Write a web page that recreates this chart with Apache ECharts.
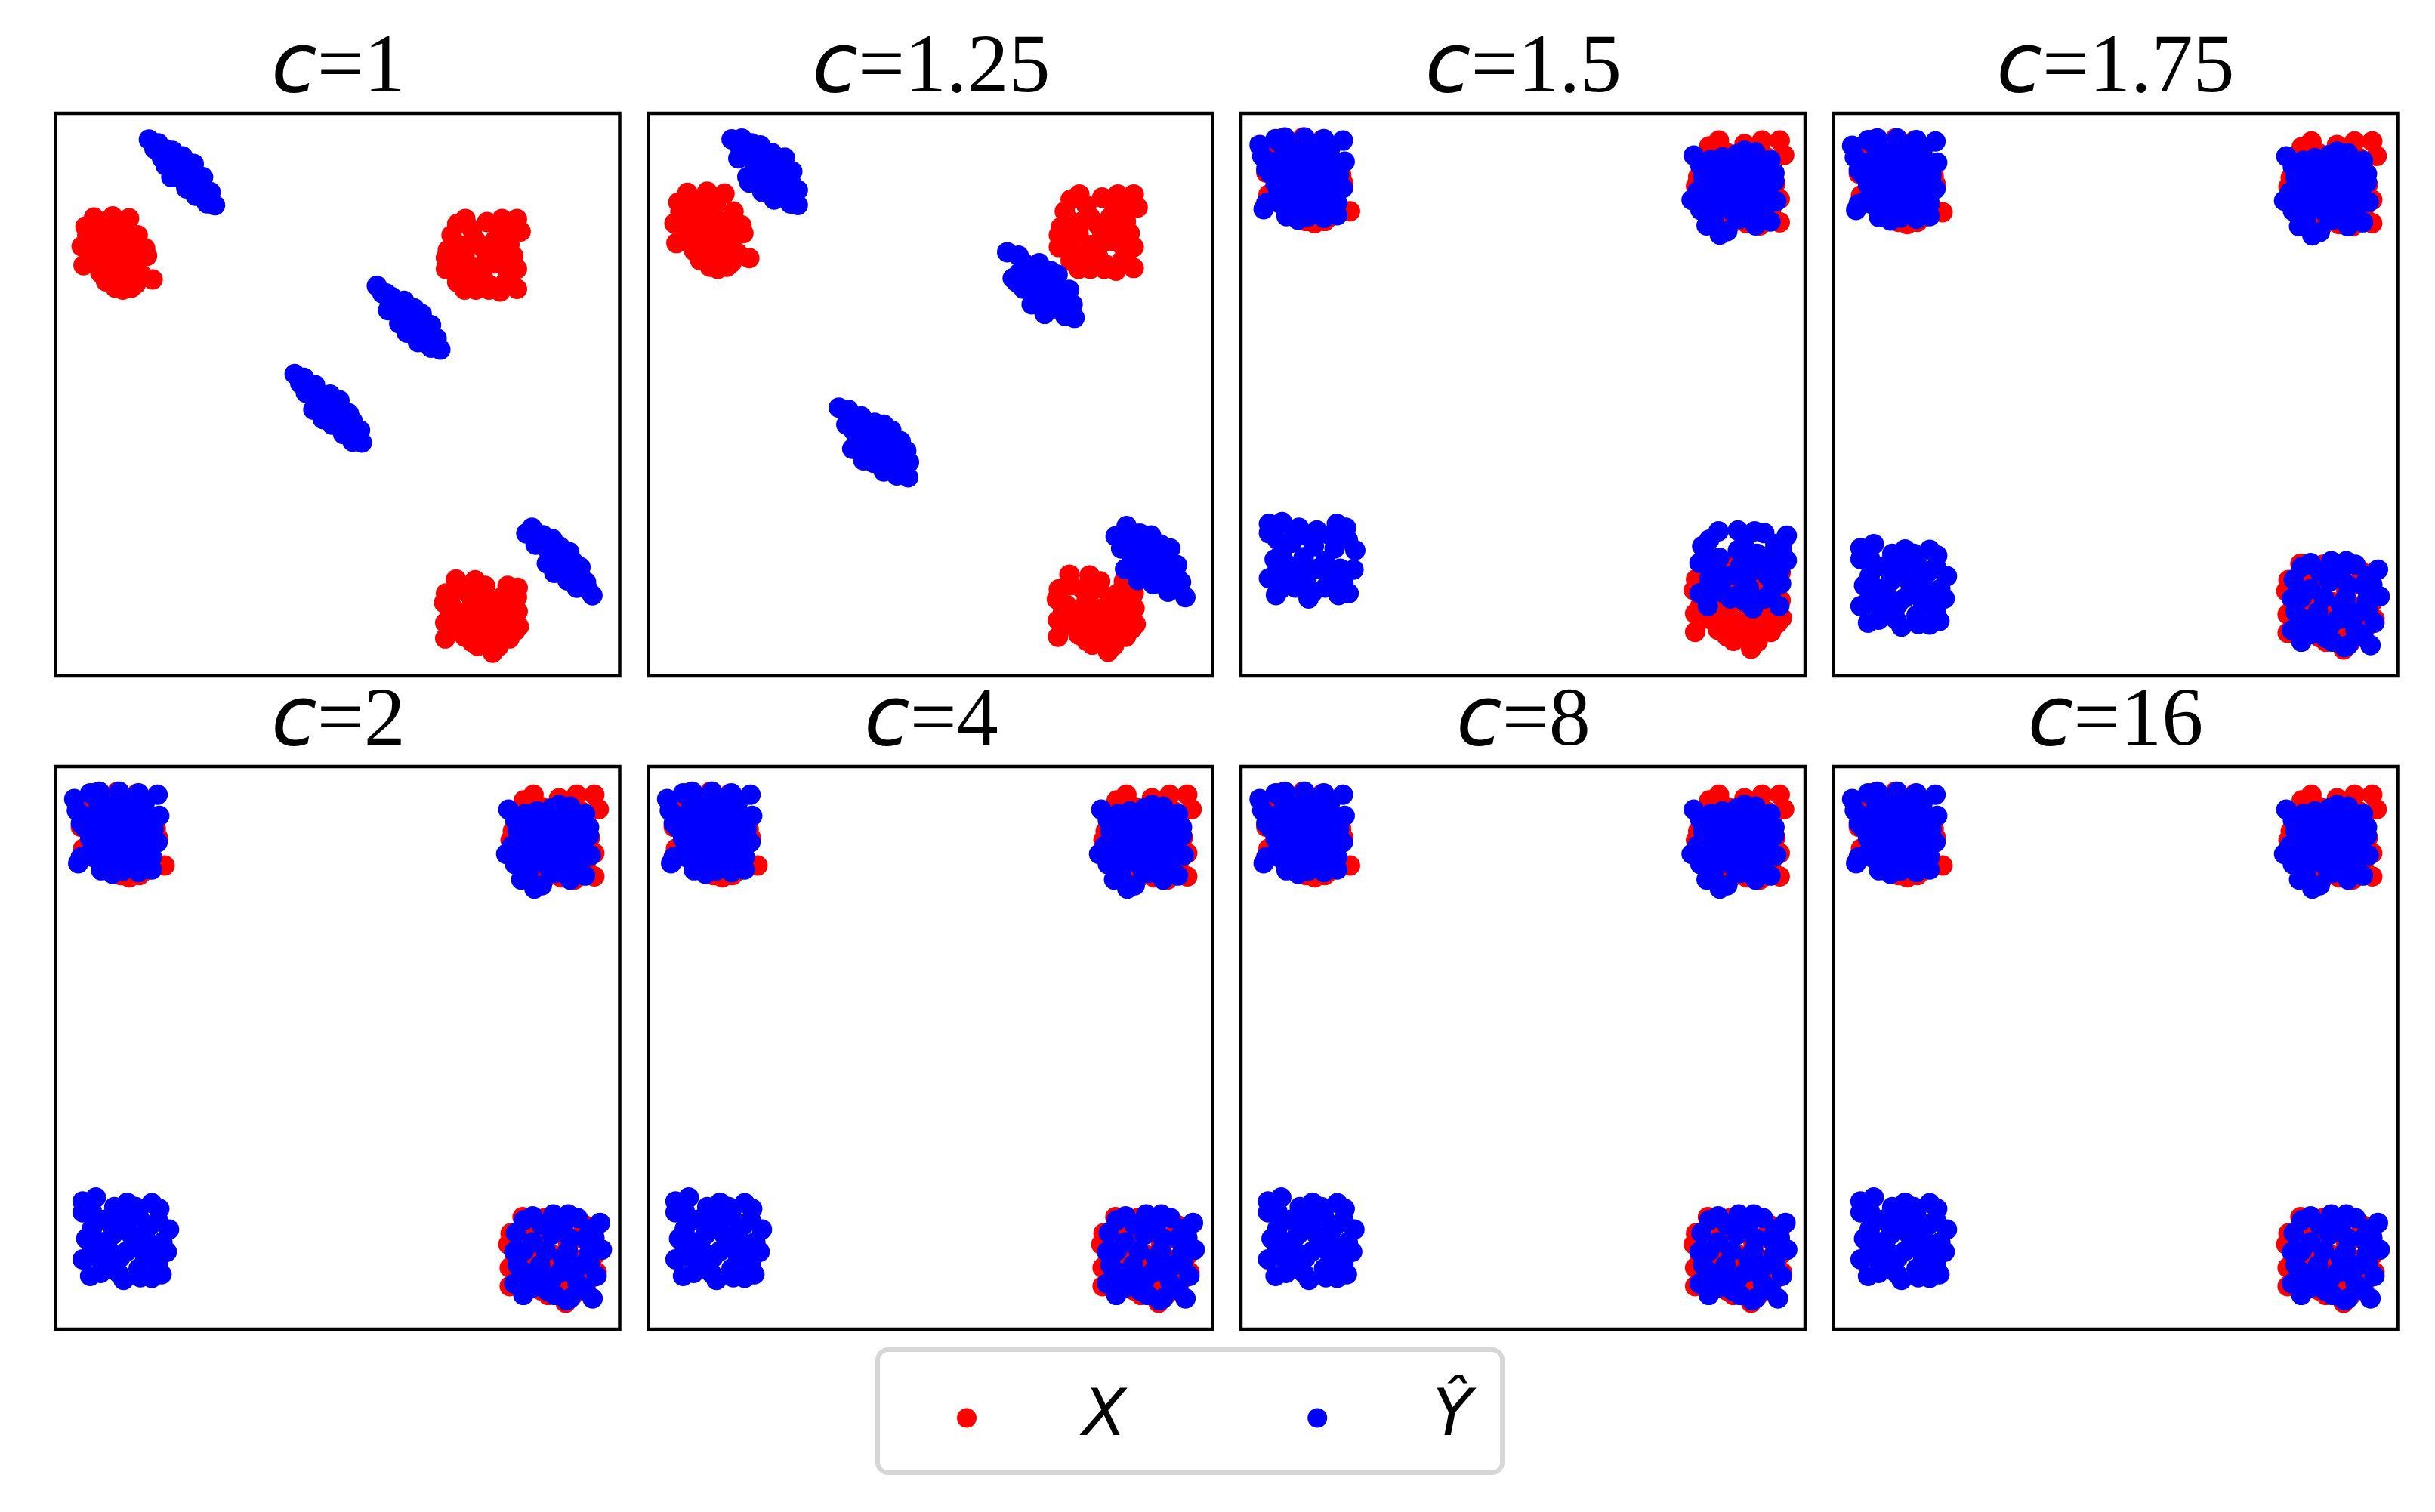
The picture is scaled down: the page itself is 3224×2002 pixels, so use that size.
<!DOCTYPE html>
<html><head><meta charset="utf-8">
<script src="https://cdn.jsdelivr.net/npm/echarts@6/dist/echarts.min.js"></script>
<style>html,body{margin:0;padding:0;background:#fff}#c{width:3224px;height:2002px}</style>
</head><body><div id="c"></div>
<script>
// panel titles (value of c)
const cValues = ['1', '1.25', '1.5', '1.75', '2', '4', '8', '16'];

// X (red) clusters, shared by all panels
const xTopLeft = [[12.8,128.2],[17.8,128.5],[22.2,128.0],[10.5,125.8],[15.0,126.0],[20.0,125.5],[24.5,123.5],[9.5,120.5],[14.0,122.0],[19.0,122.5],[23.0,120.5],[26.5,120.0],[27.0,118.0],[10.0,115.5],[15.0,117.0],[20.0,118.0],[24.0,116.0],[17.5,114.0],[21.5,113.0],[25.5,113.0],[28.5,111.7],[16.0,111.2],[18.5,109.5],[20.5,109.0],[22.8,109.5],[13.5,116.0],[12.0,120.0],[11.0,123.5],
  [17.0,120.0],[21.0,121.0],[16.0,124.0],[13.0,119.0],[18.0,116.0],[22.0,116.0],[25.0,118.0],[19.0,112.0],[14.5,113.5],[24.0,110.5]];
const xTopRight = [[110.0,126.5],[112.2,127.8],[118.0,127.0],[122.0,127.8],[126.0,127.8],[127.0,124.5],[124.0,121.0],[108.5,123.5],[107.5,119.5],[107.0,117.5],[107.0,114.5],[110.0,111.0],[112.0,109.0],[115.0,109.0],[118.5,109.0],[121.5,108.5],[126.0,109.2],[126.0,114.5],[123.0,115.0],[120.0,116.0],[115.0,115.0],[112.0,118.0],[115.0,122.0],[120.0,122.0],[123.0,124.0],[111.0,113.0],[117.0,112.0],[123.0,111.0],[118.0,118.0],[114.0,125.0],
  [121.0,125.0],[110.0,121.0],[113.0,121.0],[117.0,120.0],[121.0,119.0],[125.0,118.0],[110.0,116.0],[117.0,115.0],[124.0,112.0],[113.0,111.0],[119.0,110.0],[109.0,114.0]];
const xBottomRight = [[109.7,31.7],[114.8,31.5],[117.5,30.0],[123.5,30.0],[126.2,29.5],[126.0,27.0],[126.2,23.2],[126.5,19.2],[125.5,18.0],[107.0,28.0],[106.5,25.5],[106.8,20.2],[106.8,16.0],[112.0,16.5],[115.5,14.0],[119.5,12.2],[121.0,13.8],[113.0,28.0],[120.0,26.0],[111.0,22.0],[117.0,23.0],[123.0,22.0],[115.0,19.0],[121.0,19.0],[110.0,19.0],[118.0,16.0],[124.0,16.0],
  [110.0,29.0],[116.0,28.0],[122.0,27.0],[109.0,24.0],[114.0,25.0],[120.0,23.0],[125.0,25.0],[113.0,21.0],[119.0,20.0],[108.0,22.0],[124.0,20.0],[112.0,18.0],[117.0,18.0],[121.0,16.0],[114.0,15.0]];

// Y-hat (blue) clusters, c = 1
const yhat1A = [[27.5,149.0],[30.0,148.0],[31.8,146.5],[33.8,146.0],[36.5,144.5],[39.5,142.5],[42.0,139.0],[44.0,135.0],[45.2,131.5],[43.0,132.0],[40.0,134.0],[37.5,136.0],[33.5,139.0],[31.0,144.0],[29.0,146.5],[35.0,141.0],[38.0,140.0],[41.0,137.0],[36.0,143.0],
  [32.0,142.0],[34.0,144.0],[37.0,138.0],[39.0,138.0],[42.0,134.0],[44.0,133.0],[30.0,146.0],[35.0,139.0]];
const yhat1B = [[88.5,110.0],[91.0,108.0],[92.5,107.0],[95.8,106.0],[98.5,104.0],[100.5,102.5],[103.0,99.5],[104.5,96.0],[105.5,93.0],[103.0,93.5],[99.5,95.0],[96.5,97.5],[94.5,100.0],[91.5,103.5],[90.0,108.0],[94.0,103.0],[97.5,100.0],[101.0,98.0],[96.0,103.0],
  [92.0,105.0],[93.0,106.0],[97.0,102.0],[98.0,101.0],[100.0,99.0],[102.0,97.0],[95.0,104.0],[99.0,103.0],[103.0,96.0]];
const yhat1C = [[66.5,86.5],[69.0,85.5],[72.0,83.5],[76.0,81.0],[78.5,79.5],[81.0,76.0],[82.0,74.0],[84.0,71.5],[84.5,68.2],[82.0,68.5],[79.5,70.5],[76.5,73.0],[74.0,74.5],[71.5,77.0],[69.5,81.5],[68.0,84.0],[73.0,80.0],[76.0,77.0],[79.0,74.0],[74.5,79.0],
  [70.0,83.0],[72.0,80.0],[75.0,78.0],[77.0,76.0],[78.0,77.0],[80.0,73.0],[81.0,72.0],[83.0,70.0],[71.0,82.0]];
const yhat1D = [[130.0,45.5],[128.5,44.0],[133.0,43.5],[135.5,42.5],[137.5,40.5],[140.0,39.0],[141.0,36.5],[143.0,35.0],[144.5,31.0],[146.2,27.5],[142.0,29.5],[139.5,31.5],[136.0,33.5],[134.0,36.0],[131.0,41.0],[135.0,38.0],[138.0,36.0],[142.0,33.0],[134.0,40.0],
  [131.0,43.0],[133.0,41.0],[136.0,39.0],[137.0,37.0],[139.0,36.0],[140.0,34.0],[141.0,33.0],[143.0,31.0],[145.0,29.0]];

// Y-hat (blue) clusters, c = 1.25
const yhat125A = [[24.0,141.7],[26.6,141.9],[29.0,140.7],[31.3,140.2],[34.2,138.3],[37.5,137.1],[39.4,133.6],[40.8,128.9],[40.8,125.1],[38.9,125.5],[34.8,126.5],[31.8,128.4],[28.5,130.8],[28.0,132.2],[25.7,136.9],[29.4,136.9],[32.8,135.0],[36.1,131.2],[38.5,129.3],[32.8,131.2],
  [27.0,139.0],[30.0,138.0],[33.0,137.0],[35.0,134.0],[37.0,133.0],[39.0,131.0],[31.0,133.0],[34.0,129.0],[37.0,128.0],[30.0,135.0],[26.0,140.0]];
const yhat125B = [[93.9,113.2],[96.8,112.3],[98.2,110.4],[102.0,110.4],[104.8,108.5],[106.7,107.5],[109.6,103.7],[110.5,100.0],[111.0,96.6],[108.6,97.1],[103.4,97.6],[100.1,100.0],[96.3,105.6],[95.3,106.6],[101.0,105.6],[104.8,102.8],[107.7,100.0],[102.9,103.7],
  [99.0,108.0],[102.0,107.0],[105.0,105.0],[107.0,104.0],[109.0,101.0],[98.0,104.0],[104.0,100.0],[106.0,99.0],[100.0,103.0],[97.0,108.0]];
const yhat125C = [[51.2,73.9],[53.6,73.4],[56.9,71.7],[60.3,70.1],[62.6,69.6],[64.5,68.2],[66.9,65.4],[68.3,63.0],[69.0,60.1],[68.8,56.3],[65.9,56.8],[62.6,57.8],[57.4,60.6],[54.6,63.5],[53.1,69.6],[57.4,66.8],[61.2,63.9],[65.0,61.1],[59.3,64.9],[63.1,62.0],
  [55.0,70.0],[58.0,69.0],[61.0,67.0],[64.0,65.0],[66.0,62.0],[67.0,59.0],[56.0,66.0],[59.0,62.0],[63.0,59.0],[55.0,68.0],[60.0,60.0],[66.0,58.0]];
const yhat125D = [[124.2,44.0],[121.4,41.4],[127.6,42.1],[130.4,41.6],[132.8,39.3],[135.3,38.3],[137.0,34.1],[138.0,29.8],[139.1,26.0],[134.7,27.4],[130.9,29.3],[127.1,30.3],[123.8,33.1],[122.8,38.3],[126.6,36.4],[130.4,34.5],[134.2,32.6],[128.5,38.3],[133.3,35.5],
  [126.0,40.0],[129.0,39.0],[132.0,37.0],[135.0,35.0],[137.0,31.0],[136.0,29.0],[125.0,34.0],[128.0,33.0],[132.0,30.0],[127.0,38.0],[131.0,36.0]];

// Y-hat (blue) clusters, c >= 1.5 (corners)
const yhatTL = [[8.0,126.8],[11.6,128.1],[13.7,128.5],[18.2,128.5],[22.6,128.1],[26.9,127.8],[8.6,124.2],[9.5,121.3],[10.3,120.4],[27.3,123.0],[26.9,117.0],[13.3,116.6],[9.5,113.6],[8.9,112.2],[14.1,110.6],[16.7,109.8],[22.6,110.2],[25.6,110.8],[18.4,115.3],[23.5,115.3],[20.1,119.6],[15.0,121.3],[22.6,121.3],[17.5,124.7],[20.9,124.7],[12.4,113.6],[18.4,111.9],[24.3,119.6],[15.0,125.5],[25.6,113.6],[11.6,123.0],[16.7,117.9],[21.8,112.8],[11.6,117.9],
  [13.0,127.0],[20.0,127.0],[24.0,126.0],[10.0,123.0],[14.0,122.0],[19.0,122.0],[24.0,123.0],[12.0,120.0],[17.0,120.0],[22.0,118.0],[26.0,120.0],[15.0,117.0],[20.0,116.0],[25.0,116.0],[11.0,114.0],[16.0,114.0],[22.0,113.0],[19.0,110.5],[14.0,112.0]];
const yhatTR = [[106.5,124.4],[110.3,123.4],[112.9,121.7],[116.3,124.7],[118.0,125.5],[120.5,125.1],[123.9,123.4],[124.8,120.4],[124.8,118.5],[106.0,114.3],[107.3,116.2],[109.4,114.5],[109.4,108.5],[112.4,106.4],[114.1,107.2],[115.4,111.5],[120.5,108.5],[123.9,109.4],[125.2,114.0],[122.2,111.9],[112.0,117.9],[117.1,117.9],[120.5,119.6],[114.6,120.4],[118.8,115.3],[111.2,111.9],[108.6,119.6],[121.4,116.2],[115.4,114.9],[113.7,116.2],[118.8,122.1],[110.3,120.4],[120.5,111.9],
  [113.0,124.0],[122.0,122.0],[108.0,122.0],[116.0,121.0],[111.0,118.0],[115.0,118.0],[119.0,118.0],[123.0,117.0],[110.0,116.0],[117.0,114.0],[121.0,114.0],[113.0,113.0],[108.0,112.0],[117.0,110.0],[111.0,110.0],[119.0,112.0]];
const yhatBL = [[9.9,35.3],[12.9,36.2],[17.1,34.0],[20.9,33.2],[25.6,34.9],[27.3,33.6],[29.5,28.9],[29.0,23.8],[27.8,18.7],[25.6,17.9],[19.2,17.4],[11.6,18.3],[9.9,22.1],[10.7,26.8],[9.9,32.8],[15.0,31.1],[14.1,26.0],[19.2,30.2],[22.6,31.9],[25.2,29.8],[22.2,25.1],[26.0,25.1],[18.4,22.5],[22.6,20.0],[15.8,20.0],[13.3,22.5],[20.9,27.7],[16.7,27.7],
  [12.0,33.0],[17.0,31.0],[22.0,34.0],[27.0,31.0],[12.0,29.0],[17.0,29.0],[24.0,28.0],[12.0,24.0],[16.0,24.0],[20.0,24.0],[24.0,23.0],[27.0,21.0],[14.0,19.0],[18.0,19.0],[23.0,18.0],[20.0,35.0],[28.0,26.0]];
const yhatBR = [[112.0,31.9],[116.7,32.3],[120.1,32.3],[122.2,31.5],[127.3,30.4],[108.2,28.1],[107.8,23.8],[127.7,24.3],[126.5,18.3],[125.6,13.2],[120.5,13.2],[119.7,12.8],[115.4,14.9],[109.9,14.0],[107.8,16.6],[112.0,26.0],[116.3,27.7],[120.5,26.8],[123.9,26.8],[113.7,20.8],[118.8,22.5],[123.1,20.8],[110.3,19.1],[116.3,17.4],[122.2,16.6],[112.0,15.7],[108.6,20.8],[124.8,23.4],
  [110.0,31.0],[119.0,30.0],[125.0,29.0],[110.0,24.0],[115.0,24.0],[120.0,24.0],[125.0,21.0],[118.0,19.0],[113.0,17.0],[121.0,19.0],[124.0,15.0],[117.0,14.0],[110.0,17.0],[126.0,27.0],[114.0,30.0]];

// Y-hat (blue) bottom clusters, c = 1.5
const yhat15BL = [[10.1,40.6],[13.1,41.0],[16.9,39.7],[21.0,39.1],[25.5,40.6],[27.6,39.7],[29.7,34.6],[29.3,30.2],[28.2,24.8],[25.9,24.4],[19.1,23.6],[11.7,24.4],[10.1,28.2],[11.4,32.5],[10.1,38.5],[15.2,36.3],[14.4,31.2],[20.3,35.5],[22.9,32.1],[26.3,30.4],[18.6,27.8],[22.9,26.1],[16.1,26.1],[13.5,28.2],[21.2,30.4],
  [12.0,37.0],[18.0,38.0],[24.0,38.0],[28.0,37.0],[13.0,34.0],[18.0,33.0],[25.0,35.0],[12.0,30.0],[17.0,30.0],[24.0,29.0],[27.0,27.0],[13.0,26.0],[20.0,25.0],[26.0,26.0],[16.0,39.0]];
const yhat15BR = [[112.1,38.9],[116.5,39.1],[120.3,38.9],[122.5,38.5],[127.6,37.9],[108.4,35.5],[107.8,31.7],[127.6,32.3],[126.3,27.0],[125.9,21.9],[119.9,21.4],[114.8,23.6],[109.7,21.9],[107.8,24.8],[112.3,32.9],[116.5,34.6],[120.8,33.8],[124.2,33.8],[114.0,28.7],[119.1,29.5],[123.3,28.7],[111.0,26.1],[116.5,24.4],[122.5,23.6],[111.4,31.2],
  [110.0,37.0],[118.0,37.0],[125.0,36.0],[110.0,33.0],[118.0,33.0],[126.5,35.0],[110.0,28.0],[117.0,31.0],[122.0,31.0],[126.0,30.0],[113.0,25.0],[119.0,26.0],[124.0,25.0],[118.0,23.0],[116.0,29.0]];

// axis ranges per panel
const xMins = [2.5, 2.9, 3.75, 3.75, 3.75, 3.75, 3.75, 3.75];
const xMaxs = [153.5, 146.0, 131.75, 131.75, 131.75, 131.75, 131.75, 131.75];
const yMins = [6.0, 6.1, 6.0, 6.2, 6.2, 6.2, 6.2, 6.2];
const yMaxs = [156.0, 148.3, 134.0, 134.2, 134.2, 134.2, 134.2, 134.2];

const blueByPanel = [
  [yhat1A, yhat1B, yhat1C, yhat1D],
  [yhat125A, yhat125B, yhat125C, yhat125D],
  [yhatTL, yhatTR, yhat15BL, yhat15BR],
  [yhatTL, yhatTR, yhatBL, yhatBR],
  [yhatTL, yhatTR, yhatBL, yhatBR],
  [yhatTL, yhatTR, yhatBL, yhatBR],
  [yhatTL, yhatTR, yhatBL, yhatBR],
  [yhatTL, yhatTR, yhatBL, yhatBR]
];
const redX = [].concat(xTopLeft, xTopRight, xBottomRight);

const gridLefts = [73.5, 858.5, 1643, 2427.5];
const gridTops = [150, 1015];
const titleXs = [448, 1233, 2017, 2801];
const titleYs = [92, 957];

const chart = echarts.init(document.getElementById('c'), null, {renderer: 'canvas', width: 3224, height: 2002});
const option = {
  animation: false,
  backgroundColor: '#ffffff',
  grid: [], xAxis: [], yAxis: [], series: [], graphic: [],
  legend: {
    data: ['X', 'Ŷ'],
    left: 1162, top: 1787,
    orient: 'horizontal',
    icon: 'circle',
    itemWidth: 26, itemHeight: 26,
    itemGap: 240,
    padding: [48, 40, 30, 105],
    backgroundColor: '#ffffff',
    borderColor: '#d6d6d6', borderWidth: 6, borderRadius: 14,
    selectedMode: false,
    formatter: function (name) { return name === 'X' ? '{a|' + name + '}' : '{b|' + name + '}'; },
    textStyle: {
      color: '#000',
      rich: {
        a: {fontFamily: 'DejaVu Sans', fontStyle: 'italic', fontSize: 85, lineHeight: 90, color: '#000', padding: [0, 0, 0, 135]},
        b: {fontFamily: 'DejaVu Sans', fontStyle: 'italic', fontSize: 85, lineHeight: 90, color: '#000', padding: [0, 0, 0, 135]}
      }
    }
  }
};

for (let i = 0; i < 8; i++) {
  const row = Math.floor(i / 4), col = i % 4;
  option.grid.push({
    left: gridLefts[col], top: gridTops[row], width: 747, height: 745,
    show: true, borderColor: '#000', borderWidth: 4.5, backgroundColor: 'transparent',
    containLabel: false, outerBoundsMode: 'none'
  });
  option.xAxis.push({type: 'value', gridIndex: i, min: xMins[i], max: xMaxs[i], show: false});
  option.yAxis.push({type: 'value', gridIndex: i, min: yMins[i], max: yMaxs[i], show: false});
  option.series.push({
    type: 'scatter', name: 'X', xAxisIndex: i, yAxisIndex: i, data: redX,
    symbol: 'circle', symbolSize: 27, itemStyle: {color: '#ff0000', opacity: 1}, z: 2, silent: true
  });
  option.series.push({
    type: 'scatter', name: 'Ŷ', xAxisIndex: i, yAxisIndex: i, data: [].concat(...blueByPanel[i]),
    symbol: 'circle', symbolSize: 27, itemStyle: {color: '#0000ff', opacity: 1}, z: 3, silent: true
  });
  option.graphic.push({
    type: 'text', x: titleXs[col], y: titleYs[row], silent: true,
    style: {
      text: '{c|c}{n|=' + cValues[i] + '}',
      align: 'center', verticalAlign: 'middle',
      rich: {
        c: {fontFamily: 'DejaVu Sans', fontStyle: 'italic', fontSize: 110, lineHeight: 120, fill: '#000'},
        n: {fontFamily: 'Liberation Serif', fontSize: 110, lineHeight: 120, fill: '#000'}
      }
    }
  });
}
chart.setOption(option);
</script>
</body></html>
